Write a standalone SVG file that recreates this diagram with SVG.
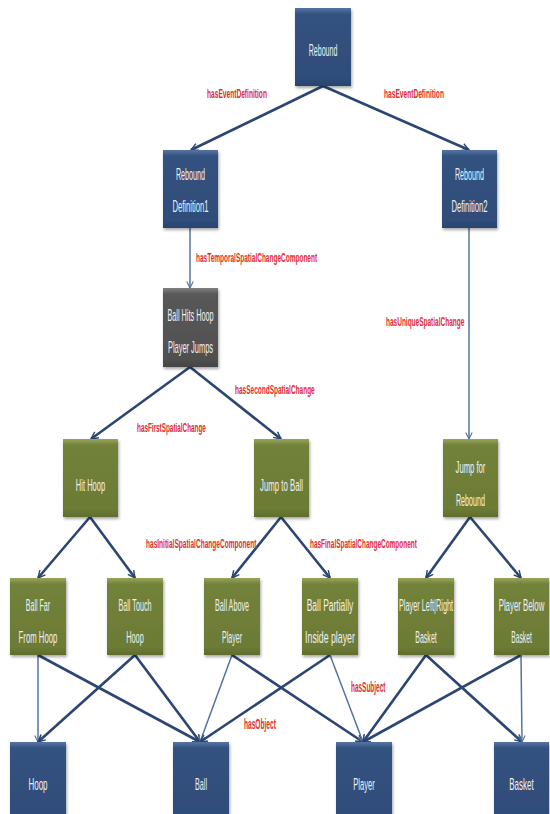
<svg xmlns="http://www.w3.org/2000/svg" width="550" height="814" viewBox="0 0 550 814">
<defs>
<linearGradient id="gN" x1="0" y1="0" x2="0" y2="1">
<stop offset="0" stop-color="#5674a3"/><stop offset="0.08" stop-color="#33527f"/><stop offset="0.9" stop-color="#2f4d7a"/><stop offset="1" stop-color="#284470"/>
</linearGradient>
<linearGradient id="gG" x1="0" y1="0" x2="0" y2="1">
<stop offset="0" stop-color="#97a55c"/><stop offset="0.08" stop-color="#73823a"/><stop offset="0.9" stop-color="#6c7b35"/><stop offset="1" stop-color="#5f6d2d"/>
</linearGradient>
<linearGradient id="gK" x1="0" y1="0" x2="0" y2="1">
<stop offset="0" stop-color="#808080"/><stop offset="0.08" stop-color="#585858"/><stop offset="0.9" stop-color="#505050"/><stop offset="1" stop-color="#444"/>
</linearGradient>
<filter id="sh" x="-20%" y="-20%" width="140%" height="140%">
<feDropShadow dx="1" dy="2" stdDeviation="1.5" flood-color="#000" flood-opacity="0.35"/>
</filter>
<marker id="aT" viewBox="0 0 10 10" refX="9" refY="5" markerWidth="9" markerHeight="9" markerUnits="userSpaceOnUse" orient="auto">
<path d="M1,1 L9,5 L1,9" fill="none" stroke="#2b4673" stroke-width="1.6"/>
</marker>
<marker id="aF" viewBox="0 0 10 10" refX="9" refY="5" markerWidth="8" markerHeight="8" markerUnits="userSpaceOnUse" orient="auto">
<path d="M1,1 L9,5 L1,9" fill="none" stroke="#5373a0" stroke-width="1.4"/>
</marker>
</defs>
<style>
.n rect{filter:url(#sh)}
.navy{fill:url(#gN)}
.green{fill:url(#gG)}
.gray{fill:url(#gK)}
.t{font-family:"Liberation Sans",Arial,sans-serif;font-size:16px;fill:#eef0f4;text-anchor:middle}
.lbl{font-family:"Liberation Sans",Arial,sans-serif;font-size:13px;font-weight:bold;fill:#dc2f33}
.big{font-size:15px}
.thick{stroke:#2b4673;stroke-width:2.6;fill:none;marker-end:url(#aT)}
.thin{stroke:#5373a0;stroke-width:1.5;fill:none;marker-end:url(#aF)}
</style>
<g id="connectors">
<line class="thick" x1="323" y1="86" x2="191" y2="150"/>
<line class="thick" x1="323" y1="86" x2="469" y2="150"/>
<line class="thin" x1="190" y1="228" x2="190" y2="288"/>
<line class="thin" x1="469" y1="228" x2="469" y2="439"/>
<line class="thick" x1="190" y1="367" x2="91" y2="439"/>
<line class="thick" x1="190" y1="367" x2="281" y2="439"/>
<line class="thick" x1="90" y1="517" x2="38" y2="578"/>
<line class="thick" x1="90" y1="517" x2="135" y2="578"/>
<line class="thick" x1="281" y1="517" x2="232" y2="578"/>
<line class="thick" x1="281" y1="517" x2="330" y2="578"/>
<line class="thick" x1="470" y1="517" x2="426" y2="578"/>
<line class="thick" x1="470" y1="517" x2="521" y2="578"/>
<line class="thin" x1="38" y1="655" x2="38" y2="742"/>
<line class="thick" x1="38" y1="655" x2="200" y2="742"/>
<line class="thick" x1="135" y1="655" x2="38" y2="742"/>
<line class="thick" x1="135" y1="655" x2="200" y2="742"/>
<line class="thin" x1="232" y1="655" x2="200" y2="742"/>
<line class="thick" x1="232" y1="655" x2="363" y2="742"/>
<line class="thick" x1="330" y1="655" x2="200" y2="742"/>
<line class="thin" x1="330" y1="655" x2="363" y2="742"/>
<line class="thick" x1="426" y1="655" x2="363" y2="742"/>
<line class="thick" x1="426" y1="655" x2="522" y2="742"/>
<line class="thick" x1="521" y1="655" x2="363" y2="742"/>
<line class="thin" x1="521" y1="655" x2="522" y2="742"/>
</g>
<g id="labels">
<text class="lbl" transform="translate(207,98) scale(0.51,1)">hasEventDefinition</text>
<text class="lbl" transform="translate(384,98) scale(0.51,1)">hasEventDefinition</text>
<text class="lbl" transform="translate(196,262) scale(0.5,1)">hasTemporalSpatialChangeComponent</text>
<text class="lbl" transform="translate(386,326) scale(0.5,1)">hasUniqueSpatialChange</text>
<text class="lbl" transform="translate(235,394) scale(0.5,1)">hasSecondSpatialChange</text>
<text class="lbl" transform="translate(137,432) scale(0.49,1)">hasFirstSpatialChange</text>
<text class="lbl" transform="translate(146,548) scale(0.505,1)">hasInitialSpatialChangeComponent</text>
<text class="lbl" transform="translate(310,548) scale(0.497,1)">hasFinalSpatialChangeComponent</text>
<text class="lbl big" transform="translate(351,692) scale(0.43,1)">hasSubject</text>
<text class="lbl big" transform="translate(244,729) scale(0.44,1)">hasObject</text>
</g>
<g id="rebound" class="n"><rect class="navy" x="295" y="8" width="56" height="78"/><text class="t" transform="translate(323,56) scale(0.44,1)">Rebound</text></g>
<g id="def1" class="n"><rect class="navy" x="163" y="150" width="55" height="78"/><text class="t" transform="translate(190.5,180) scale(0.45,1)">Rebound</text><text class="t" transform="translate(190.5,212) scale(0.48,1)">Definition1</text></g>
<g id="def2" class="n"><rect class="navy" x="442" y="150" width="55" height="78"/><text class="t" transform="translate(469.5,180) scale(0.45,1)">Rebound</text><text class="t" transform="translate(469.5,212) scale(0.48,1)">Definition2</text></g>
<g id="ballhits" class="n"><rect class="gray" x="163" y="288" width="55" height="79"/><text class="t" transform="translate(190.5,321) scale(0.455,1)">Ball Hits Hoop</text><text class="t" transform="translate(190.5,353) scale(0.465,1)">Player Jumps</text></g>
<g id="hithoop" class="n"><rect class="green" x="63" y="439" width="55" height="78"/><text class="t" transform="translate(90.5,491) scale(0.47,1)">Hit Hoop</text></g>
<g id="jumpball" class="n"><rect class="green" x="254" y="439" width="55" height="78"/><text class="t" transform="translate(281.5,491) scale(0.49,1)">Jump to Ball</text></g>
<g id="jumpreb" class="n"><rect class="green" x="443" y="439" width="55" height="78"/><text class="t" transform="translate(470.5,473) scale(0.48,1)">Jump for</text><text class="t" transform="translate(470.5,506) scale(0.45,1)">Rebound</text></g>
<g id="ballfar" class="n"><rect class="green" x="10" y="578" width="56" height="77"/><text class="t" transform="translate(38,611) scale(0.44,1)">Ball Far</text><text class="t" transform="translate(38,643) scale(0.485,1)">From Hoop</text></g>
<g id="balltouch" class="n"><rect class="green" x="107" y="578" width="56" height="77"/><text class="t" transform="translate(135,611) scale(0.45,1)">Ball Touch</text><text class="t" transform="translate(135,643) scale(0.46,1)">Hoop</text></g>
<g id="ballabove" class="n"><rect class="green" x="204" y="578" width="56" height="77"/><text class="t" transform="translate(232,611) scale(0.45,1)">Ball Above</text><text class="t" transform="translate(232,643) scale(0.44,1)">Player</text></g>
<g id="ballpart" class="n"><rect class="green" x="302" y="578" width="56" height="77"/><text class="t" transform="translate(330,611) scale(0.53,1)">Ball Partially</text><text class="t" transform="translate(330,643) scale(0.55,1)">Inside player</text></g>
<g id="playerlr" class="n"><rect class="green" x="398" y="578" width="56" height="77"/><text class="t" transform="translate(426,611) scale(0.46,1)">Player Left|Right</text><text class="t" transform="translate(426,643) scale(0.44,1)">Basket</text></g>
<g id="playerbelow" class="n"><rect class="green" x="494" y="578" width="55" height="77"/><text class="t" transform="translate(521.5,611) scale(0.49,1)">Player Below</text><text class="t" transform="translate(521.5,643) scale(0.42,1)">Basket</text></g>
<g id="hoop" class="n"><rect class="navy" x="10" y="742" width="56" height="80"/><text class="t" transform="translate(38,790) scale(0.5,1)">Hoop</text></g>
<g id="ball" class="n"><rect class="navy" x="173" y="742" width="56" height="80"/><text class="t" transform="translate(201,790) scale(0.45,1)">Ball</text></g>
<g id="player" class="n"><rect class="navy" x="336" y="742" width="56" height="80"/><text class="t" transform="translate(364,790) scale(0.47,1)">Player</text></g>
<g id="basket" class="n"><rect class="navy" x="494" y="742" width="55" height="80"/><text class="t" transform="translate(521.5,790) scale(0.5,1)">Basket</text></g>
</svg>
